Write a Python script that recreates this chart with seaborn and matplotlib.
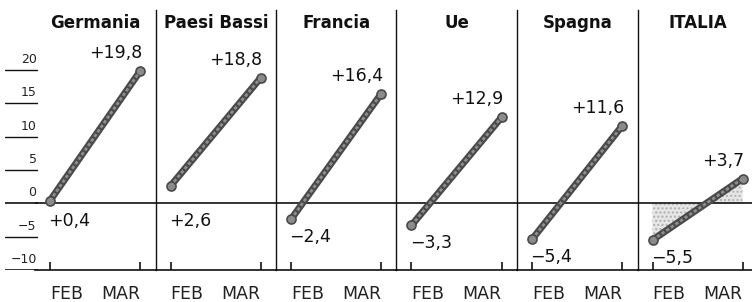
import matplotlib
matplotlib.use("Agg")

import matplotlib.pyplot as plt
import pandas as pd
import seaborn as sns

countries = ["Germania", "Paesi Bassi", "Francia", "Ue", "Spagna", "ITALIA"]
feb = [0.4, 2.6, -2.4, -3.3, -5.4, -5.5]
mar = [19.8, 18.8, 16.4, 12.9, 11.6, 3.7]
months = ["FEB", "MAR"]
yticks = [20, 15, 10, 5, 0, -5, -10]
highlight = "ITALIA"


def fmt(v):
    s = f"{abs(v):.1f}".replace(".", ",")
    return ("\u2212" if v < 0 else "+") + s


def fmt_tick(t):
    return ("\u2212" if t < 0 else "") + str(abs(t))


sns.set_theme(style="white")
plt.rcParams["font.family"] = ["DejaVu Sans"]

W, H = 752, 302
fig = plt.figure(figsize=(W / 100, H / 100), dpi=100)
top_px, bot_px = 10, 270
bottom = 1 - bot_px / H
height = (bot_px - top_px) / H
ylim = (-10, 29)
px_per_unit = 90.0
xlim = (-15 / px_per_unit, 1 + 15.5 / px_per_unit)

# colonna etichette asse y
lab = fig.add_axes([5 / W, bottom, 33 / W, height])
lab.set_ylim(*ylim)
lab.set_xlim(0, 1)
lab.axis("off")
for t in yticks:
    lab.axhline(t, color="#111111", lw=1.2 if t in (0, -10) else 1.0)
    lab.annotate(fmt_tick(t), (1, t), xytext=(-1, 3),
                 textcoords="offset points", ha="right", va="bottom",
                 fontsize=9, color="#222222")

panel_w = 120.5
for i, (name, f, m) in enumerate(zip(countries, feb, mar)):
    left = 35 + i * panel_w
    ax = fig.add_axes([left / W, bottom, panel_w / W, height])
    df = pd.DataFrame({"mese": months, "valore": [f, m]})
    df["x"] = range(len(months))

    if name == highlight:
        ax.fill_between(df["x"], df["valore"], 0, facecolor="#e6e6e6",
                        edgecolor="#b0b0b0", hatch="....", lw=0, zorder=1)

    sns.lineplot(data=df, x="x", y="valore", ax=ax, color="#4a4a4a", lw=5,
                 marker="o", markersize=6.5, markerfacecolor="#8a8a8a",
                 markeredgecolor="#4a4a4a", markeredgewidth=1.2, zorder=3)
    sns.lineplot(data=df, x="x", y="valore", ax=ax, color="#8e8e8e", lw=2.0,
                 zorder=4)
    ax.lines[-1].set_dashes((1.2, 0.8))

    ax.axhline(0, color="#111111", lw=1.2, zorder=2)
    ax.set_xlim(*xlim)
    ax.set_ylim(*ylim)
    ax.set_xticks(df["x"])
    ax.set_xticklabels(months)
    ticklabels = ax.get_xticklabels()
    ticklabels[0].set_ha("left")
    ticklabels[1].set_ha("right")
    ax.set_yticks([])
    ax.set_xlabel("")
    ax.set_ylabel("")
    ax.tick_params(axis="x", direction="in", length=6, width=1.2, color="#111111",
                   pad=11, labelsize=12.5, labelcolor="#222222", bottom=True)
    for s in ["top", "right"]:
        ax.spines[s].set_visible(False)
    ax.spines["left"].set_visible(i > 0)
    ax.spines["left"].set_color("#111111")
    ax.spines["left"].set_linewidth(1.0)
    ax.spines["bottom"].set_color("#111111")
    ax.spines["bottom"].set_linewidth(1.2)
    ax.patch.set_alpha(0)

    ax.text(sum(xlim) / 2, 27, name, ha="center", va="center", fontsize=12,
            fontweight="bold", color="#111111")

    ax.annotate(fmt(f), (0, min(f, 0)), xytext=(-1, -13), textcoords="offset points",
                ha="left", va="center", fontsize=12.5, color="#111111")
    ax.annotate(fmt(m), (1, m), xytext=(1.5, 13), textcoords="offset points",
                ha="right", va="center", fontsize=12.5, color="#111111")

fig.savefig("out.png", dpi=100)
